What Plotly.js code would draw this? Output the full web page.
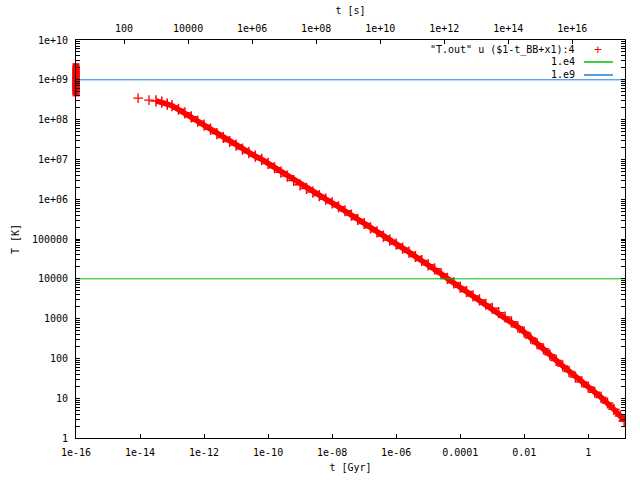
<!DOCTYPE html>
<html>
<head>
<meta charset="utf-8">
<script src="https://cdn.plot.ly/plotly-3.0.1.min.js"></script>
<style>html,body{margin:0;padding:0;background:#fff}#chart{width:640px;height:480px}</style>
</head>
<body>
<div id="chart"></div>
<script>
// ---- data (log10 values) ----
// main curve: log10 t [Gyr] and log10 T [K]
const logTimeGyr = [-14.06,-13.72,-13.50,-13.32,-13.15,-13.00,-12.80,-12.60,-12.40,-12.20,-12.00,-11.80,-11.60,-11.40,-11.20,-11.00,-10.80,-10.60,-10.40,-10.20,-10.00,-9.80,-9.60,-9.40,-9.20,-9.00,-8.80,-8.60,-8.40,-8.20,-8.00,-7.80,-7.60,-7.40,-7.20,-7.00,-6.80,-6.60,-6.40,-6.20,-6.00,-5.80,-5.60,-5.40,-5.20,-5.00,-4.80,-4.60,-4.40,-4.20,-4.00,-3.80,-3.60,-3.40,-3.20,-3.00,-2.80,-2.60,-2.40,-2.20,-2.00,-1.80,-1.60,-1.40,-1.20,-1.00,-0.80,-0.60,-0.40,-0.20,0.00,0.20,0.40,0.60,0.80,1.00,1.12];
const logTempK = [8.54,8.49,8.47,8.44,8.39,8.35,8.26,8.17,8.07,7.96,7.86,7.76,7.65,7.55,7.45,7.36,7.26,7.17,7.08,7.00,6.90,6.79,6.68,6.58,6.47,6.36,6.27,6.18,6.09,6.00,5.91,5.81,5.71,5.60,5.49,5.39,5.28,5.18,5.07,4.97,4.87,4.77,4.67,4.56,4.46,4.35,4.25,4.13,4.01,3.90,3.79,3.68,3.57,3.47,3.36,3.26,3.15,3.04,2.92,2.79,2.66,2.51,2.37,2.24,2.09,1.95,1.81,1.67,1.53,1.41,1.28,1.15,1.02,0.88,0.72,0.55,0.43];
// points piled up at the left edge (t = 1e-16 Gyr)
const edgeLogTime = [-16,-16,-16,-16,-16,-16,-16,-16,-16,-16,-16,-16,-16,-16];
const edgeLogTemp = [8.67,8.72,8.77,8.82,8.87,8.92,8.97,9.02,9.07,9.12,9.17,9.22,9.27,9.33];
// constant reference lines
const refLineE4 = 1e4;
const refLineE9 = 1e9;
// axis ranges / ticks
const xLogRange = [-16, 1.147];
const secPerGyrLog = 16.499;
const xTickVals = [1e-16,1e-14,1e-12,1e-10,1e-8,1e-6,1e-4,1e-2,1];
const xTickText = ["1e-16","1e-14","1e-12","1e-10","1e-08","1e-06","0.0001","0.01","1"];
const x2TickVals = [1e2,1e4,1e6,1e8,1e10,1e12,1e14,1e16];
const x2TickText = ["100","10000","1e+06","1e+08","1e+10","1e+12","1e+14","1e+16"];
const yTickVals = [1,10,100,1e3,1e4,1e5,1e6,1e7,1e8,1e9,1e10];
const yTickText = ["1","10","100","1000","10000","100000","1e+06","1e+07","1e+08","1e+09","1e+10"];
const legendLabels = ['"T.out" u ($1-t_BB+x1):4', '1.e4', '1.e9'];

const pow10 = v => Math.pow(10, v);
const xEnds = [pow10(xLogRange[0]), pow10(xLogRange[1])];

const yMinor = [];
for (let d = 0; d < 10; d++) for (let m = 2; m <= 9; m++) yMinor.push(m * Math.pow(10, d));

const FONT = "DejaVu Sans Mono, monospace";
const RED = "#ff0000", GREEN = "#00c000", BLUE = "#1f7fdf";

const traces = [
  { // band of the main curve (dense markers)
    x: logTimeGyr.slice(2).map(pow10), y: logTempK.slice(2).map(pow10),
    mode: "lines+markers", type: "scatter", showlegend: false,
    line: {color: RED, width: 5.5},
    marker: {symbol: "cross-thin-open", size: 8, color: RED, line: {color: RED, width: 1.5}}
  },
  { // isolated first points
    x: logTimeGyr.slice(0, 2).map(pow10), y: logTempK.slice(0, 2).map(pow10),
    mode: "markers", type: "scatter", showlegend: false,
    marker: {symbol: "cross-thin-open", size: 7, color: RED, line: {color: RED, width: 1.3}}
  },
  { // edge pile-up
    x: edgeLogTime.map(pow10), y: edgeLogTemp.map(pow10),
    mode: "markers", type: "scatter", showlegend: false, cliponaxis: false,
    marker: {symbol: "square", size: 7, color: RED, line: {width: 0}}
  },
  {
    x: xEnds, y: [refLineE4, refLineE4], mode: "lines", type: "scatter", showlegend: false,
    line: {color: GREEN, width: 1}
  },
  {
    x: xEnds, y: [refLineE9, refLineE9], mode: "lines", type: "scatter", showlegend: false,
    line: {color: BLUE, width: 1}
  },
  { // carrier for top axis
    x: [pow10(xLogRange[0] + secPerGyrLog)], y: [refLineE9], xaxis: "x2", mode: "markers",
    type: "scatter", showlegend: false, hoverinfo: "skip", marker: {opacity: 0}
  }
];

// legend drawn gnuplot-style: text right-aligned, sample on the right
const pl = 76.3, pr = 625, pt = 40, pb = 438.3;
const px = x => (x - pl) / (pr - pl);
const py = y => (pb - y) / (pb - pt);
const legY = [50, 62, 75];

const layout = {
  width: 640, height: 480,
  margin: {l: 76, r: 15, t: 40, b: 42, pad: 0},
  paper_bgcolor: "#fff", plot_bgcolor: "#fff",
  font: {family: FONT, size: 10, color: "#000"},
  showlegend: false,
  xaxis: {
    type: "log", range: xLogRange, tickmode: "array", tickvals: xTickVals, ticktext: xTickText,
    ticks: "inside", ticklen: 4, tickcolor: "#000", showgrid: false, zeroline: false,
    showline: true, linecolor: "#000", linewidth: 1, mirror: true,
    ticklabelstandoff: 5,
    tickfont: {family: FONT, size: 10},
    title: {text: "t [Gyr]", font: {family: FONT, size: 10}, standoff: 6}
  },
  xaxis2: {
    type: "log", overlaying: "x", side: "top", anchor: "y",
    range: [xLogRange[0] + secPerGyrLog, xLogRange[1] + secPerGyrLog],
    tickmode: "array", tickvals: x2TickVals, ticktext: x2TickText,
    ticks: "inside", ticklen: 4, tickcolor: "#000", showgrid: false, zeroline: false,
    showline: false, ticklabelstandoff: 5,
    tickfont: {family: FONT, size: 10},
    title: {text: "t [s]", font: {family: FONT, size: 10}, standoff: 6}
  },
  yaxis: {
    type: "log", range: [0, 10], tickmode: "array", tickvals: yTickVals, ticktext: yTickText,
    ticks: "inside", ticklen: 4, tickcolor: "#000", showgrid: false, zeroline: false,
    showline: true, linecolor: "#000", linewidth: 1, mirror: "allticks",
    ticklabelstandoff: 5,
    minor: {tickmode: "array", tickvals: yMinor, ticks: "inside", ticklen: 2, tickcolor: "#000", showgrid: false},
    tickfont: {family: FONT, size: 10},
    title: {text: "T [K]", font: {family: FONT, size: 10}, standoff: 10}
  },
  annotations: legendLabels.map((t, i) => ({
    xref: "paper", yref: "paper", x: px(577), y: py(legY[i]), xanchor: "right", yanchor: "middle",
    text: t, showarrow: false, font: {family: FONT, size: 10, color: "#000"}
  })).concat([{
    xref: "paper", yref: "paper", x: px(598.3), y: py(legY[0]), xanchor: "center", yanchor: "middle",
    text: "+", showarrow: false, font: {family: FONT, size: 13, color: RED}
  }]),
  shapes: [
    {type: "line", xref: "paper", yref: "paper", x0: px(584), x1: px(613), y0: py(legY[1]), y1: py(legY[1]), line: {color: GREEN, width: 1.5}},
    {type: "line", xref: "paper", yref: "paper", x0: px(584), x1: px(613), y0: py(legY[2]), y1: py(legY[2]), line: {color: BLUE, width: 1.5}}
  ]
};

Plotly.newPlot("chart", traces, layout, {displayModeBar: false, staticPlot: true});
</script>
</body>
</html>
